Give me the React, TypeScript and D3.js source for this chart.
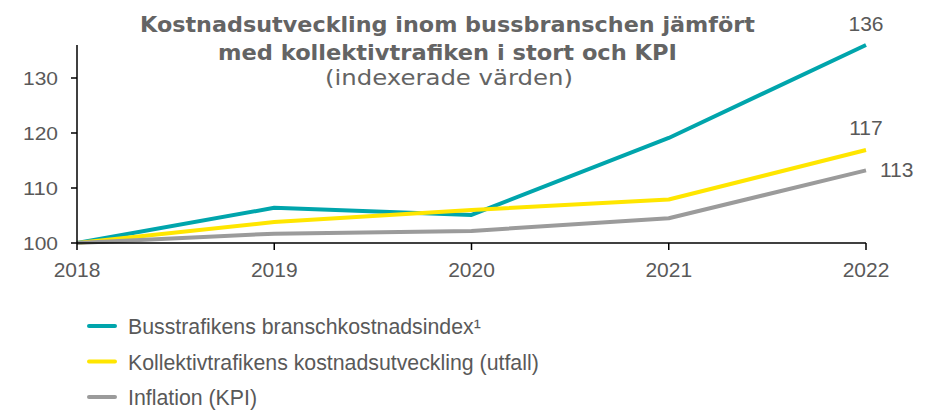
import React from "react";
import * as d3 from "d3";

const years = ["2018", "2019", "2020", "2021", "2022"];
const busIndex = [100, 106.4, 105.1, 119.1, 136];
const kollektiv = [100, 103.8, 106.0, 107.9, 116.9];
const kpi = [100, 101.7, 102.2, 104.5, 113.2];
const yTicks = [100, 110, 120, 130];
const seriesNames = [
  "Busstrafikens branschkostnadsindex¹",
  "Kollektivtrafikens kostnadsutveckling (utfall)",
  "Inflation (KPI)",
];
const endLabels = ["136", "117", "113"];
const colors = ["#00A5AC", "#FFE600", "#9B9B9B"];

export default function App() {
  const W = 926, H = 410;
  const x = d3.scalePoint<string>().domain(years).range([77, 866]);
  const y = d3.scaleLinear().domain([100, 136]).range([243, 45]);
  const line = d3
    .line<number>()
    .x((_, i) => x(years[i]) as number)
    .y((d) => y(d));
  const series = [busIndex, kollektiv, kpi];
  const textColor = "#595959";
  const font = "'Liberation Sans', Arial, sans-serif";
  const labelPos = [
    { dx: 0, dy: -14, anchor: "middle" },
    { dx: 0, dy: -15, anchor: "middle" },
    { dx: 14, dy: 7, anchor: "start" },
  ];
  return (
    <svg width={W} height={H} style={{ position: "absolute", left: 0, top: 0 }}>
      <rect width={W} height={H} fill="#fff" />
      <g fontFamily="'DejaVu Sans', sans-serif" fill="#646464" textAnchor="middle">
        <text x={447.5} y={32} fontSize={22} fontWeight="bold" textLength={615} lengthAdjust="spacingAndGlyphs">Kostnadsutveckling inom bussbranschen jämfört</text>
        <text x={447.5} y={60} fontSize={22} fontWeight="bold" textLength={459} lengthAdjust="spacingAndGlyphs">med kollektivtrafiken i stort och KPI</text>
        <text x={449} y={85} fontSize={22} textLength={248} lengthAdjust="spacingAndGlyphs">(indexerade värden)</text>
      </g>
      {series.map((s, i) => (
        <path key={i} d={line(s) || ""} fill="none" stroke={colors[i]} strokeWidth={4} strokeLinejoin="round" />
      ))}
      <line x1={77} x2={77} y1={45} y2={243} stroke="#000" strokeWidth={1.5} />
      <line x1={77} x2={866} y1={243} y2={243} stroke="#000" strokeWidth={1.5} />
      {yTicks.map((t) => (
        <g key={t}>
          <line x1={71} x2={77} y1={y(t)} y2={y(t)} stroke="#000" strokeWidth={1.5} />
          <text x={58} y={y(t) + 7} textAnchor="end" fontSize={19} fontFamily={font} fill={textColor} textLength={35} lengthAdjust="spacingAndGlyphs">{t}</text>
        </g>
      ))}
      {years.map((yr) => (
        <g key={yr}>
          <line x1={x(yr)} x2={x(yr)} y1={243} y2={250} stroke="#000" strokeWidth={1.5} />
          <text x={x(yr)} y={277} textAnchor="middle" fontSize={21} fontFamily={font} fill={textColor}>{yr}</text>
        </g>
      ))}
      {series.map((s, i) => (
        <text
          key={i}
          x={(x("2022") as number) + labelPos[i].dx}
          y={y(s[s.length - 1]) + labelPos[i].dy}
          textAnchor={labelPos[i].anchor}
          fontSize={21}
          fontFamily={font}
          fill={textColor}
        >
          {endLabels[i]}
        </text>
      ))}
      {seriesNames.map((n, i) => (
        <g key={n} transform={`translate(87, ${326 + i * 35.5})`}>
          <line x1={2} x2={28} y1={0} y2={0} stroke={colors[i]} strokeWidth={4} strokeLinecap="round" />
          <text x={41} y={8} fontSize={21.3} fontFamily={font} fill={textColor}>
            {n}
          </text>
        </g>
      ))}
    </svg>
  );
}
